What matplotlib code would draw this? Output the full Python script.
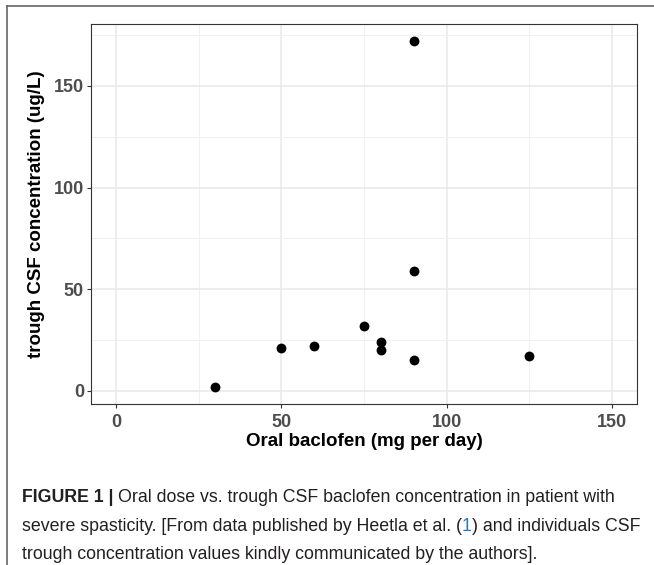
import numpy as np
import matplotlib
matplotlib.use("Agg")
import matplotlib.pyplot as plt
from matplotlib.lines import Line2D

# oral dose (mg/day) vs trough CSF baclofen (ug/L)
dose = [30, 50, 60, 75, 80, 80, 90, 90, 90, 125]
csf = [2, 21, 22, 32, 24, 20, 15, 59, 172, 17]

x_ticks = [0, 50, 100, 150]
y_ticks = [0, 50, 100, 150]

plt.rcParams['font.family'] = ['Liberation Sans', 'DejaVu Sans']

fig = plt.figure(figsize=(6.54, 5.65), dpi=100)
ax = fig.add_axes([91/654, 1 - 404/565, (637 - 91)/654, (404 - 24)/565])

# ggplot-like limits: x expanded to include 0..150, 5% padding
xr = (0, 150)
pad = (xr[1] - xr[0]) * 0.05
ax.set_xlim(xr[0] - pad, xr[1] + pad)
yr = (min(csf), max(csf))
pad = (yr[1] - yr[0]) * 0.05
ax.set_ylim(yr[0] - pad, yr[1] + pad)

ax.set_xticks(x_ticks)
ax.set_yticks(y_ticks)
ax.set_xticks([25, 75, 125], minor=True)
ax.set_yticks([25, 75, 125, 175], minor=True)
ax.grid(True, which='major', color='#e8e8e8', lw=1.1)
ax.grid(True, which='minor', color='#f0f0f0', lw=0.7)
ax.set_axisbelow(True)
ax.tick_params(which='minor', length=0)
ax.tick_params(which='major', length=3, width=0.8, color='#333333',
               labelcolor='#4d4d4d', labelsize=13)
ax.tick_params(axis='x', pad=4)
ax.tick_params(axis='y', pad=2)
for lab in ax.get_xticklabels() + ax.get_yticklabels():
    lab.set_fontweight('bold')
for s in ax.spines.values():
    s.set_color('#333333')
    s.set_linewidth(0.8)

ax.scatter(dose, csf, s=50, color='black', zorder=3, linewidths=0)

ax.set_xlabel('Oral baclofen (mg per day)', fontsize=13.5, fontweight='bold', labelpad=2)
ax.set_ylabel('trough CSF concentration (ug/L)', fontsize=13.5, fontweight='bold', labelpad=6)

# outer frame (top and left edges)
fig.add_artist(Line2D([7/654, 1], [1 - 6/565, 1 - 6/565], color='#666666', lw=1.2))
fig.add_artist(Line2D([7/654, 7/654], [0, 1 - 6/565], color='#666666', lw=1.2))

# caption
cap_font = ['Liberation Sans Narrow', 'Liberation Sans', 'DejaVu Sans']
cap_size = 12.8
ink = '#231f20'
lines = [
    [("FIGURE 1 | ", 'bold', ink),
     ("Oral dose vs. trough CSF baclofen concentration in patient with", 'normal', ink)],
    [("severe spasticity. [From data published by Heetla et al. (", 'normal', ink),
     ("1", 'normal', '#2a7ab8'),
     (") and individuals CSF", 'normal', ink)],
    [("trough concentration values kindly communicated by the authors].", 'normal', ink)],
]
baselines = [502, 531, 559]
fig.canvas.draw()
r = fig.canvas.get_renderer()
for parts, yb in zip(lines, baselines):
    x = 22
    for txt, w, c in parts:
        t = fig.text(x/654, 1 - yb/565, txt, fontsize=cap_size, fontweight=w,
                     color=c, family=cap_font, va='baseline', ha='left')
        bb = t.get_window_extent(renderer=r)
        x += bb.width

fig.savefig('out.png', dpi=100)
